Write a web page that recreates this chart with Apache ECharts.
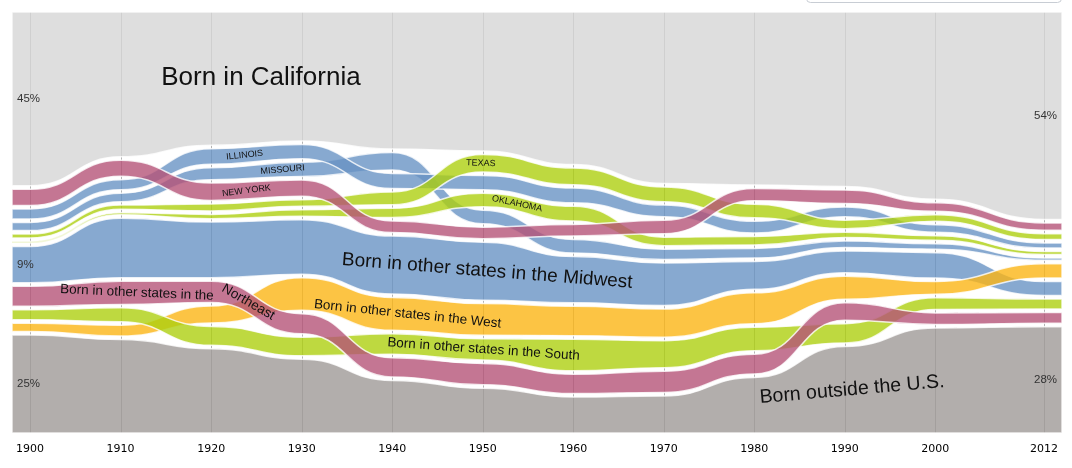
<!DOCTYPE html>
<html><head><meta charset="utf-8">
<script src="https://cdn.jsdelivr.net/npm/echarts@6/dist/echarts.min.js"></script>
<style>html,body{margin:0;padding:0;background:#fff}#c{width:1072px;height:468px}</style>
</head><body><div id="c"></div>
<script>
// ---- data (share of California residents, %, by place of birth) ----
const years = [1900,1910,1920,1930,1940,1950,1960,1970,1980,1990,2000,2012];
const bornCalifornia = [45.0,37.5,34.5,33.4,35.5,36.0,39.5,44.4,44.8,45.2,48.5,53.7];
const bornNewYork    = [4.2,4.1,4.5,4.2,3.0,3.0,3.0,3.5,3.2,3.5,2.2,1.9];
const bornIllinois   = [2.6,2.6,4.0,3.7,3.9,3.7,3.8,3.0,3.0,2.5,1.9,1.3];
const bornMissouri   = [2.1,2.2,3.1,3.7,4.5,3.5,3.5,2.7,2.5,1.7,1.4,0.6];
const bornTexas      = [1.0,1.1,1.8,1.7,3.3,4.5,4.3,3.8,3.5,2.2,1.7,1.5];
const bornOklahoma   = [0.4,0.5,1.1,1.7,2.4,3.5,3.8,2.2,2.2,1.4,1.2,0.8];
const bornMidwest    = [9.4,15.4,14.4,14.1,15.0,15.0,12.0,11.0,7.2,5.6,6.6,3.6];
const bornNortheast  = [5.2,6.0,5.5,5.2,5.0,5.5,5.0,5.5,5.1,4.5,3.0,2.8];
const bornSouth      = [2.6,3.6,4.9,4.8,5.3,5.5,8.2,7.0,6.1,5.0,3.0,2.6];
const bornWest       = [2.1,2.8,4.4,8.4,8.5,8.2,7.6,7.3,8.0,6.0,3.3,3.7];
const bornAbroad     = [25.4,24.2,21.8,19.1,13.6,11.6,9.3,9.6,14.4,22.4,27.2,27.5];

// top-to-bottom order of the groups in each year
const stackOrder = [
  ['CA','NY','IL','MO','TX','OK','MW','NE','S','W','F'],
  ['CA','NY','IL','MO','TX','OK','MW','NE','S','W','F'],
  ['CA','IL','MO','NY','TX','OK','MW','NE','W','S','F'],
  ['CA','IL','MO','NY','TX','OK','MW','W','NE','S','F'],
  ['CA','MO','IL','TX','OK','NY','MW','W','S','NE','F'],
  ['CA','TX','IL','OK','MO','NY','MW','W','S','NE','F'],
  ['CA','TX','IL','OK','NY','MO','MW','W','S','NE','F'],
  ['CA','TX','IL','NY','OK','MO','MW','W','S','NE','F'],
  ['CA','NY','TX','IL','OK','MO','MW','W','S','NE','F'],
  ['CA','NY','IL','TX','OK','MO','MW','W','NE','S','F'],
  ['CA','NY','TX','IL','OK','MO','MW','W','S','NE','F'],
  ['CA','NY','TX','IL','OK','MO','W','MW','S','NE','F']
];

const BLUE='#6993c4', PINK='#b55478', GREEN='#aecf10', YELLOW='#fbb515';
const bandDefs = [
  {key:'CA', values:bornCalifornia, color:'#d6d6d6'},
  {key:'F',  values:bornAbroad,     color:'#9f9a97'},
  {key:'MW', values:bornMidwest,    color:BLUE},
  {key:'W',  values:bornWest,       color:YELLOW},
  {key:'S',  values:bornSouth,      color:GREEN},
  {key:'NE', values:bornNortheast,  color:PINK},
  {key:'MO', values:bornMissouri,   color:BLUE},
  {key:'IL', values:bornIllinois,   color:BLUE},
  {key:'OK', values:bornOklahoma,   color:GREEN},
  {key:'TX', values:bornTexas,      color:GREEN},
  {key:'NY', values:bornNewYork,    color:PINK}
];

const pct = v => Math.round(v) + '%';
const labelDefs = [
  {band:'CA', year:1925.5, text:'Born in California', size:26, rot:0},
  {band:'MW', year:1950.5, text:'Born in other states in the Midwest', size:19, rot:-4.5},
  {band:'NE', year:1911.8, text:'Born in other states in the', size:13.5, rot:-2.5},
  {band:'NE', year:1924.1, text:'Northeast', size:13.5, rot:-30},
  {band:'W',  year:1941.7, text:'Born in other states in the West', size:13.5, rot:-6},
  {band:'S',  year:1950.1, text:'Born in other states in the South', size:13.5, rot:-4},
  {band:'F',  year:1990.8, text:'Born outside the U.S.', size:19.5, rot:5},
  {band:'IL', year:1923.7, text:'ILLINOIS', size:9, rot:6},
  {band:'MO', year:1927.9, text:'MISSOURI', size:9, rot:5},
  {band:'NY', year:1923.9, text:'NEW YORK', size:9, rot:7},
  {band:'TX', year:1949.8, text:'TEXAS', size:9, rot:-2},
  {band:'OK', year:1953.8, text:'OKLAHOMA', size:9, rot:-12},
  {band:'CA', year:1898, text:pct(bornCalifornia[0]), size:11.5, rot:0, align:'left', dx:5, pctLabel:true},
  {band:'MW', year:1898, text:pct(bornMidwest[0]), size:11.5, rot:0, align:'left', dx:5, pctLabel:true},
  {band:'F',  year:1898, text:pct(bornAbroad[0]), size:11.5, rot:0, align:'left', dx:5, pctLabel:true},
  {band:'CA', year:2014, text:pct(bornCalifornia[bornCalifornia.length-1]), size:11.5, rot:0, align:'right', dx:-5, pctLabel:true},
  {band:'F',  year:2014, text:pct(bornAbroad[bornAbroad.length-1]), size:11.5, rot:0, align:'right', dx:-5, pctLabel:true}
];

// ---- layout of the stacked bands ----
const X_MIN = 1898, X_MAX = 2014, GAP = 0.9;
const TOTAL = 100 + GAP * (bandDefs.length - 1);
const valueOf = {}; bandDefs.forEach(b => valueOf[b.key] = b.values);
const layout = {}; bandDefs.forEach(b => layout[b.key] = {top:[], bot:[]});
years.forEach((yr, i) => {
  const order = stackOrder[i];
  const sum = order.reduce((s,k) => s + valueOf[k][i], 0);
  let cum = 0;
  order.forEach(k => {
    const v = valueOf[k][i] * 100 / sum;
    layout[k].top[i] = cum; layout[k].bot[i] = cum + v; cum += v + GAP;
  });
});

function edgePoints(api, arr) {
  const pts = [api.coord([X_MIN, arr[0]])];
  years.forEach((yr, i) => pts.push(api.coord([yr, arr[i]])));
  pts.push(api.coord([X_MAX, arr[arr.length-1]]));
  return pts;
}
function bump(pts, cmd) {
  let d = cmd + pts[0][0] + ' ' + pts[0][1];
  for (let j = 1; j < pts.length; j++) {
    const a = pts[j-1], b = pts[j], mx = (a[0] + b[0]) / 2;
    d += ' C' + mx + ' ' + a[1] + ' ' + mx + ' ' + b[1] + ' ' + b[0] + ' ' + b[1];
  }
  return d;
}
function edgeValue(arr, yr) {
  const xs = [X_MIN].concat(years, [X_MAX]);
  const vs = [arr[0]].concat(arr, [arr[arr.length-1]]);
  let j = 0;
  while (j < xs.length - 2 && yr > xs[j+1]) j++;
  const u = Math.max(0, Math.min(1, (yr - xs[j]) / (xs[j+1] - xs[j])));
  let lo = 0, hi = 1;
  for (let k = 0; k < 40; k++) { const t = (lo+hi)/2; const x = 1.5*t*(1-t) + t*t*t; if (x < u) lo = t; else hi = t; }
  const t = (lo+hi)/2;
  return vs[j] + (vs[j+1] - vs[j]) * (3*t*t - 2*t*t*t);
}

const chart = echarts.init(document.getElementById('c'), null, {renderer:'canvas'});
chart.setOption({
  animation: false,
  grid: {left:12, right:10, top:12, bottom:35},
  xAxis: {
    type:'value', min:X_MIN, max:X_MAX,
    axisLine:{show:false}, axisTick:{show:false}, splitLine:{show:false},
    axisLabel:{customValues: years, color:'#000', fontFamily:'DejaVu Sans', fontSize:11, margin:11,
      formatter: v => String(v)}
  },
  yAxis: {type:'value', min:0, max:TOTAL, inverse:true, show:false},
  graphic: [{type:'rect', shape:{x:806.5, y:-8.5, width:255, height:11, r:4},
    style:{fill:'#fff', stroke:'#c8cdd4', lineWidth:1}}],
  series: [
    { // vertical year lines
      type:'custom', z:1, silent:true, data: years.map((y,i)=>[y,0]),
      renderItem: (params, api) => {
        const yr = years[params.dataIndex];
        const p0 = api.coord([yr, 0]), p1 = api.coord([yr, TOTAL]);
        const x = Math.round(p0[0]) + 0.5;
        return {type:'line', shape:{x1:x, y1:p0[1], x2:x, y2:p1[1]}, style:{stroke:'#b4b4b4', lineWidth:1}};
      }
    },
    { // bands
      type:'custom', z:2, silent:true, data: bandDefs.map((b,i)=>[X_MIN,0]),
      renderItem: (params, api) => {
        const b = bandDefs[params.dataIndex], L = layout[b.key];
        const top = edgePoints(api, L.top), bot = edgePoints(api, L.bot).reverse();
        const d = bump(top, 'M') + ' ' + bump(bot, 'L') + ' Z';
        return {type:'path', shape:{pathData:d},
          style:{fill:b.color, stroke:'#fff', lineWidth:1.5, opacity:0.8}};
      }
    },
    { // labels
      type:'custom', z:3, silent:true, data: labelDefs.map(l=>[l.year,0]),
      renderItem: (params, api) => {
        const l = labelDefs[params.dataIndex], L = layout[l.band];
        const v = (edgeValue(L.top, l.year) + edgeValue(L.bot, l.year)) / 2;
        const p = api.coord([l.year, v]);
        return {type:'text', x:p[0] + (l.dx||0), y:p[1], rotation:l.rot*Math.PI/180,
          style:{text:l.text, fill: l.pctLabel ? '#333' : '#111',
            font: l.size + 'px "Liberation Sans", Arial, sans-serif',
            align: l.align || 'center', verticalAlign:'middle'}};
      }
    }
  ]
});
</script></body></html>
